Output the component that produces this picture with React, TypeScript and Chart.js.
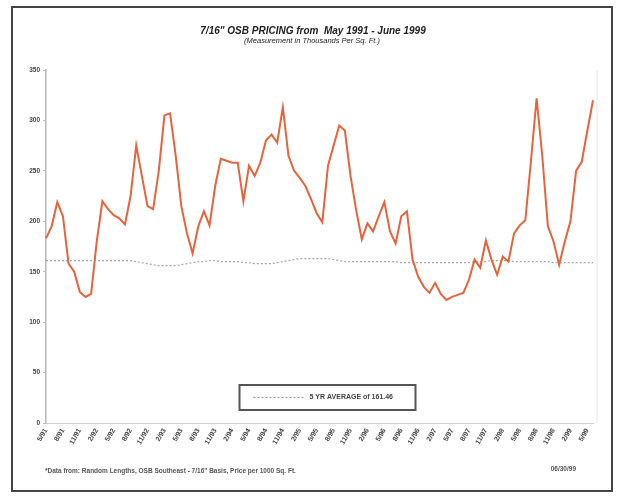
import React, { useEffect, useRef } from "react";
import { Chart, registerables } from "chart.js";

Chart.register(...registerables);

const TITLE = '7/16" OSB PRICING from  May 1991 - June 1999';
const SUBTITLE = "(Measurement in Thousands Per Sq. Ft.)";
const FOOTER_LEFT = '*Data from: Random Lengths, OSB Southeast - 7/16" Basis, Price per 1000 Sq. Ft.';
const FOOTER_RIGHT = "06/30/99";
const AVG_LABEL = "5 YR AVERAGE of 161.46";

const months = [
  "5/91","6/91","7/91","8/91","9/91","10/91","11/91","12/91",
  "1/92","2/92","3/92","4/92","5/92","6/92","7/92","8/92","9/92","10/92","11/92","12/92",
  "1/93","2/93","3/93","4/93","5/93","6/93","7/93","8/93","9/93","10/93","11/93","12/93",
  "1/94","2/94","3/94","4/94","5/94","6/94","7/94","8/94","9/94","10/94","11/94","12/94",
  "1/95","2/95","3/95","4/95","5/95","6/95","7/95","8/95","9/95","10/95","11/95","12/95",
  "1/96","2/96","3/96","4/96","5/96","6/96","7/96","8/96","9/96","10/96","11/96","12/96",
  "1/97","2/97","3/97","4/97","5/97","6/97","7/97","8/97","9/97","10/97","11/97","12/97",
  "1/98","2/98","3/98","4/98","5/98","6/98","7/98","8/98","9/98","10/98","11/98","12/98",
  "1/99","2/99","3/99","4/99","5/99","6/99",
];

const osbPrice = [
  183, 195, 219, 205, 158, 150, 130, 125, 128, 180,
  220, 212, 206, 203, 197, 225, 275, 245, 215, 212,
  250, 305, 307, 265, 215, 188, 168, 195, 210, 196,
  235, 262, 260, 258, 258, 220, 255, 245, 258, 280,
  286, 278, 313, 265, 250, 243, 235, 222, 208, 199,
  255, 275, 295, 290, 245, 211, 182, 198, 190, 205,
  219, 190, 178, 205, 210, 162, 145, 135, 129, 139,
  128, 122, 125, 127, 129, 142, 162, 154, 181, 162,
  147, 165, 160, 188, 196, 201, 260, 322, 265, 195,
  180, 157, 180, 200, 250, 259, 290, 320,
];

const fiveYrAvg = [
  161, 161, 161, 161, 161, 161, 161, 161, 161, 161,
  161, 161, 161, 161, 161, 161, 160, 159, 158, 157,
  156, 156, 156, 156, 157, 158, 159, 160, 160, 161,
  161, 160, 160, 160, 160, 159, 159, 158, 158, 158,
  158, 159, 160, 161, 162, 163, 163, 163, 163, 163,
  163, 162, 161, 160, 160, 160, 160, 160, 160, 160,
  160, 160, 160, 159, 159, 159, 159, 159, 159, 159,
  159, 159, 159, 159, 159, 159, 160, 160, 160, 161,
  161, 161, 161, 160, 160, 160, 160, 160, 160, 160,
  159, 159, 159, 159, 159, 159, 159, 159,
];

const yTicks = [0, 50, 100, 150, 200, 250, 300, 350];

const decorPlugin = {
  id: "decor",
  beforeDatasetsDraw(chart: any) {
    const { ctx, chartArea } = chart;
    ctx.save();
    ctx.strokeStyle = "#e6e6e6";
    ctx.lineWidth = 1;
    ctx.beginPath();
    ctx.moveTo(chartArea.right + 4, chartArea.top);
    ctx.lineTo(chartArea.right + 4, chartArea.bottom);
    ctx.stroke();
    ctx.restore();
  },
  afterDraw(chart: any) {
    const { ctx, chartArea } = chart;
    ctx.save();
    // titles
    ctx.fillStyle = "#222";
    ctx.textAlign = "center";
    ctx.textBaseline = "middle";
    ctx.font = "italic bold 10px 'Liberation Sans', Arial, sans-serif";
    ctx.fillText(TITLE, 313, 31);
    ctx.font = "italic 7.5px 'Liberation Sans', Arial, sans-serif";
    ctx.fillText(SUBTITLE, 312, 41);

    // legend box
    const cx = (chartArea.left + chartArea.right) / 2 + 8;
    const bx = cx - 88;
    const by = chartArea.bottom - 38;
    const bw = 176;
    const bh = 25;
    ctx.fillStyle = "#fff";
    ctx.fillRect(bx, by, bw, bh);
    ctx.strokeStyle = "#555";
    ctx.lineWidth = 2;
    ctx.strokeRect(bx, by, bw, bh);
    ctx.strokeStyle = "#9a9a9a";
    ctx.lineWidth = 1.2;
    ctx.setLineDash([2, 2]);
    ctx.beginPath();
    ctx.moveTo(bx + 14, by + bh / 2);
    ctx.lineTo(bx + 66, by + bh / 2);
    ctx.stroke();
    ctx.setLineDash([]);
    ctx.fillStyle = "#444";
    ctx.textAlign = "left";
    ctx.font = "bold 7px 'Liberation Sans', Arial, sans-serif";
    ctx.fillText(AVG_LABEL, bx + 70, by + bh / 2);

    // footer
    ctx.fillStyle = "#555";
    ctx.font = "bold 6.5px 'Liberation Sans', Arial, sans-serif";
    ctx.textAlign = "left";
    ctx.fillText(FOOTER_LEFT, 45, 471);
    ctx.textAlign = "right";
    ctx.fillText(FOOTER_RIGHT, 576, 469);
    ctx.restore();
  },
};

export default function App() {
  const ref = useRef<HTMLCanvasElement | null>(null);

  useEffect(() => {
    if (!ref.current) return;
    const chart = new Chart(ref.current, {
      type: "line",
      data: {
        labels: months,
        datasets: [
          {
            label: "OSB Price",
            data: osbPrice,
            borderColor: "#e6643c",
            backgroundColor: "#e6643c",
            borderWidth: 2,
            pointRadius: 0,
            tension: 0,
            fill: false,
          },
          {
            label: AVG_LABEL,
            data: fiveYrAvg,
            borderColor: "#a8a8a8",
            borderWidth: 1.2,
            borderDash: [2, 2],
            pointRadius: 0,
            tension: 0,
            fill: false,
          },
        ],
      },
      options: {
        animation: false,
        responsive: false,
        maintainAspectRatio: false,
        layout: { padding: { left: 12, right: 25, top: 70, bottom: 43 } },
        plugins: {
          legend: { display: false },
          title: { display: false },
          tooltip: { enabled: false },
        },
        scales: {
          x: {
            grid: { display: false, drawTicks: false },
            border: { display: true, color: "#d0d0d0" },
            ticks: {
              autoSkip: false,
              minRotation: 60,
              maxRotation: 60,
              padding: 4,
              color: "#444",
              font: { size: 7, weight: "bold", family: "'Liberation Sans', Arial, sans-serif" },
              callback: (_v: any, i: number) => (i % 3 === 0 ? months[i] : ""),
            },
            afterFit: (s: any) => {
              s.height = 30;
            },
          },
          y: {
            min: 0,
            max: 350,
            afterBuildTicks: (s: any) => {
              s.ticks = yTicks.map((v) => ({ value: v }));
            },
            grid: { display: true, drawOnChartArea: false, tickLength: 3, color: "#bbb" },
            border: { display: true, color: "#b8b8b8", width: 1.5 },
            ticks: {
              padding: 3,
              color: "#444",
              font: { size: 6.5, weight: "bold", family: "'Liberation Sans', Arial, sans-serif" },
            },
            afterFit: (s: any) => {
              s.width = 34;
            },
          },
        },
      },
      plugins: [decorPlugin],
    });
    return () => chart.destroy();
  }, []);

  return (
    <div style={{ position: "fixed", left: 0, top: 0, width: 618, height: 496, background: "#fff" }}>
      <canvas ref={ref} width={618} height={496} style={{ position: "absolute", left: 0, top: 0 }} />
      <div
        style={{
          position: "absolute",
          left: 11,
          top: 6,
          width: 598,
          height: 482,
          border: "2px solid #444",
          pointerEvents: "none",
        }}
      />
    </div>
  );
}
